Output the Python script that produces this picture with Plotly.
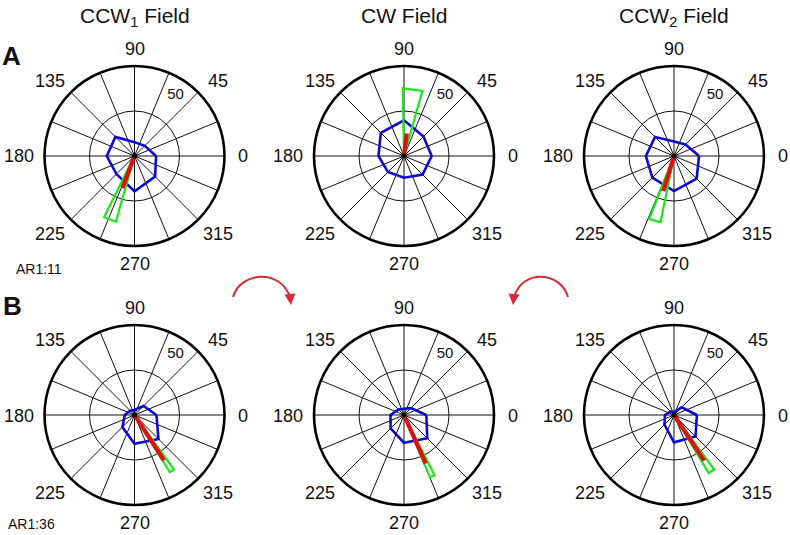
import plotly.graph_objects as go

# ---------------- data ----------------
panel_titles = ["CCW<sub>1</sub> Field", "CW Field", "CCW<sub>2</sub> Field"]
row_letters = ["A", "B"]
row_ids = ["AR1:11", "AR1:36"]

dir_angles = [0, 45, 90, 135, 180, 225, 270, 315]

# blue polygons (firing per direction)
blue_A1 = [12.0, 8.0, 7.7, 15.0, 15.4, 14.2, 19.6, 16.2]
blue_A2 = [15.4, 15.3, 19.8, 18.2, 14.2, 12.6, 12.1, 14.6]
blue_A3 = [13.9, 9.0, 8.0, 14.9, 15.6, 17.0, 19.5, 17.8]
blue_B1 = [12.2, 7.1, 2.8, 3.4, 5.4, 9.5, 16.0, 18.8]
blue_B2 = [12.4, 5.4, 3.5, 4.3, 7.5, 10.5, 15.4, 18.3]
blue_B3 = [12.7, 6.0, 1.5, 2.6, 5.0, 7.5, 15.2, 16.9]

# red mean vectors: direction (deg) and length
red_dir = [249.3, 82.8, 253.0, 303.0, 294.0, 303.5]
red_len = [19.0, 12.6, 20.4, 30.0, 29.6, 30.4]

# green confidence wedges: low/high edge (deg), radius
green_lo = [243.6, 74.2, 248.5, 301.7, 292.6, 300.8]
green_hi = [254.2, 91.1, 258.5, 305.9, 297.0, 306.4]
green_r = [38.0, 37.6, 37.6, 37.4, 37.5, 37.6]

r_max = 50
r_grid = [25]
r_label = "50"
angle_ticks = [i * 22.5 for i in range(16)]
angle_labels = ["0", "45", "90", "135", "180", "225", "270", "315"]

blues = [blue_A1, blue_A2, blue_A3, blue_B1, blue_B2, blue_B3]

# ---------------- layout helpers ----------------
W, H = 790, 535
centers_x = [134.5, 404, 674]
centers_y = [156, 415]
R = 90
FONT = "Liberation Sans, Arial, Helvetica, sans-serif"
# pixel offsets (from circle centre) of the angle label centres
label_off = [(109, 0.5), (83.5, -75.5), (0, -107), (-84, -75.5),
             (-116, 0.5), (-84.5, 77.5), (0, 107.5), (83, 77.5)]

BLUE = "#0a0ad2"
GREEN = "#1ee61e"
RED = "#e0100f"
ARROW = "#d52b35"
TXT = "#111"

fig = go.Figure()
annotations = []

for i in range(6):
    row, col = divmod(i, 3)
    name = "polar" if i == 0 else f"polar{i+1}"
    b = blues[i]
    fig.add_trace(go.Scatterpolar(
        r=b + [b[0]], theta=dir_angles + [dir_angles[0]], mode="lines",
        line=dict(color=BLUE, width=2.6), subplot=name, showlegend=False, hoverinfo="skip"))
    fig.add_trace(go.Scatterpolar(
        r=[0, green_r[i], green_r[i], 0],
        theta=[green_lo[i], green_lo[i], green_hi[i], green_hi[i]],
        mode="lines", line=dict(color=GREEN, width=2.2), subplot=name,
        showlegend=False, hoverinfo="skip"))
    fig.add_trace(go.Scatterpolar(
        r=[0, red_len[i]], theta=[red_dir[i], red_dir[i]], mode="lines",
        line=dict(color=RED, width=4.2), subplot=name, showlegend=False, hoverinfo="skip"))
    fig.add_trace(go.Scatterpolar(
        r=[0], theta=[0], mode="markers", marker=dict(color="black", size=5),
        subplot=name, showlegend=False, hoverinfo="skip"))
    fig.add_trace(go.Scatterpolar(
        r=[r_max * 0.815], theta=[56], mode="text", text=[r_label],
        textfont=dict(size=15, color=TXT, family=FONT), subplot=name,
        showlegend=False, hoverinfo="skip"))

    cx, cy = centers_x[col], centers_y[row]
    dom_x = [(cx - R) / W, (cx + R) / W]
    dom_y = [1 - (cy + R) / H, 1 - (cy - R) / H]
    fig.layout[name] = dict(
        domain=dict(x=dom_x, y=dom_y),
        bgcolor="white",
        angularaxis=dict(
            direction="counterclockwise", rotation=0,
            tickmode="array", tickvals=angle_ticks, showticklabels=False,
            showline=True, linecolor="black", linewidth=2.6,
            showgrid=True, gridcolor="#111", gridwidth=0.7, ticks=""),
        radialaxis=dict(
            range=[0, r_max], tickmode="array", tickvals=r_grid,
            showticklabels=False, ticks="", showline=False,
            showgrid=True, gridcolor="#111", gridwidth=0.7),
    )
    for lab, (ox, oy) in zip(angle_labels, label_off):
        annotations.append(dict(
            x=(cx + ox) / W, y=1 - (cy + oy) / H, xref="paper", yref="paper",
            text=lab, showarrow=False, xanchor="center", yanchor="middle",
            font=dict(size=18, color=TXT, family=FONT)))

for col in range(3):
    annotations.append(dict(
        x=centers_x[col] / W, y=1 - 2.5 / H, xref="paper", yref="paper",
        text=panel_titles[col], showarrow=False, xanchor="center", yanchor="top",
        font=dict(size=21, color=TXT, family=FONT)))
letter_pos = [(0, 55.5), (1, 306)]
for k, (lx, ly) in enumerate(letter_pos):
    annotations.append(dict(
        x=lx / W, y=1 - ly / H, xref="paper", yref="paper",
        text=f"<b>{row_letters[k]}</b>", showarrow=False, xanchor="left", yanchor="middle",
        font=dict(size=26, color=TXT, family=FONT)))
id_pos = [(14, 269), (5.5, 524)]
for k, (lx, ly) in enumerate(id_pos):
    annotations.append(dict(
        x=lx / W, y=1 - ly / H, xref="paper", yref="paper",
        text=row_ids[k], showarrow=False, xanchor="left", yanchor="middle",
        font=dict(size=14, color=TXT, family=FONT)))

# arrowheads of the curved red arrows
for (tx, ty, axo, ayo) in [(291, 305, -1, -10), (513, 305, 1, -10)]:
    annotations.append(dict(
        x=tx / W, y=1 - ty / H, xref="paper", yref="paper", text="",
        showarrow=True, ax=axo, ay=ayo, arrowhead=2, arrowsize=1.1,
        arrowwidth=2, arrowcolor=ARROW))


def P(x, y):
    return f"{x / W:.5f},{1 - y / H:.5f}"


shapes = [
    dict(type="path", xref="paper", yref="paper",
         path=f"M {P(233, 297)} C {P(240, 272)} {P(280, 268)} {P(290, 297)}",
         line=dict(color=ARROW, width=2)),
    dict(type="path", xref="paper", yref="paper",
         path=f"M {P(568, 297)} C {P(561, 272)} {P(523, 268)} {P(514, 297)}",
         line=dict(color=ARROW, width=2)),
]

fig.update_layout(
    width=W, height=H, margin=dict(l=0, r=0, t=0, b=0),
    paper_bgcolor="white", plot_bgcolor="white",
    annotations=annotations, shapes=shapes, showlegend=False,
)

fig.write_html(
    "out.html",
    config={"displayModeBar": False},
    post_script="document.body.style.margin='0';document.body.style.overflow='hidden';",
)
